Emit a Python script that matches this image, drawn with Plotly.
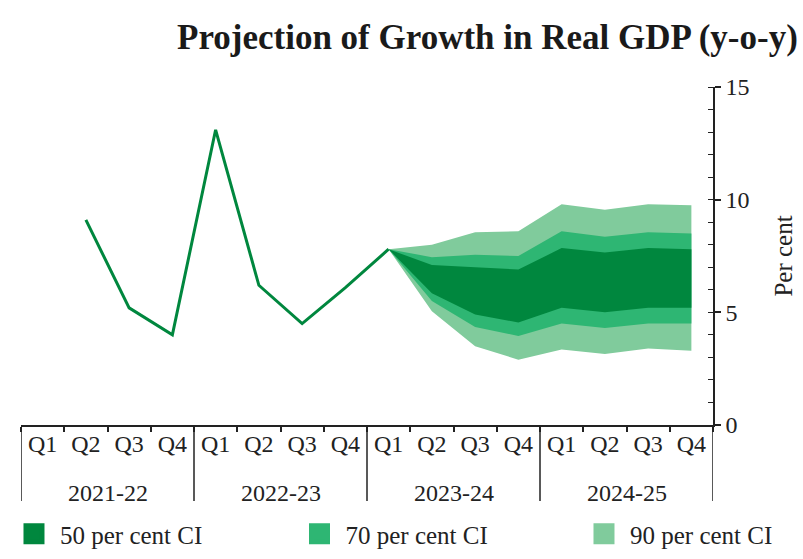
import plotly.graph_objects as go

years = ["2021-22", "2022-23", "2023-24", "2024-25"]
quarters = ["Q1", "Q2", "Q3", "Q4"]

# actual growth (None where no value)
actual = [None, 9.1, 5.2, 4.0, 13.1, 6.2, 4.5, 6.1, 7.8,
          None, None, None, None, None, None, None]

# fan chart bands, from 2023-24 Q1 to 2024-25 Q4
ci90_upper = [7.8, 8.0, 8.55, 8.6, 9.8, 9.55, 9.8, 9.75]
ci70_upper = [7.8, 7.45, 7.55, 7.5, 8.6, 8.35, 8.55, 8.5]
ci50_upper = [7.8, 7.1, 7.0, 6.9, 7.85, 7.65, 7.85, 7.8]
ci50_lower = [7.8, 5.85, 4.9, 4.55, 5.2, 5.0, 5.2, 5.2]
ci70_lower = [7.8, 5.5, 4.35, 3.95, 4.5, 4.3, 4.5, 4.5]
ci90_lower = [7.8, 5.05, 3.5, 2.9, 3.35, 3.15, 3.4, 3.3]

col50 = "#00873E"
col70 = "#2EB673"
col90 = "#80CB9C"
line_col = "#00873E"
ink = "#222222"
font_family = "Liberation Serif"

cats = [f"{y} {q}" for y in years for q in quarters]
qlabels = [q for _ in years for q in quarters]
fan_cats = cats[8:]

fig = go.Figure()

fig.add_trace(go.Scatter(x=cats, y=actual, mode="lines",
                         line=dict(color=line_col, width=3),
                         showlegend=False, hoverinfo="skip"))

def band(upper, lower, color):
    xs = fan_cats + fan_cats[::-1]
    ys = upper + lower[::-1]
    return go.Scatter(x=xs, y=ys, mode="lines", fill="toself",
                      fillcolor=color, line=dict(width=0, color=color),
                      showlegend=False, hoverinfo="skip")

fig.add_trace(band(ci90_upper, ci90_lower, col90))
fig.add_trace(band(ci70_upper, ci70_lower, col70))
fig.add_trace(band(ci50_upper, ci50_lower, col50))

legend_names = ["50 per cent CI", "70 per cent CI", "90 per cent CI"]
legend_cols = [col50, col70, col90]
legend_ids = ["legend", "legend2", "legend3"]
for name, c, lid in zip(legend_names, legend_cols, legend_ids):
    fig.add_trace(go.Scatter(x=[cats[8]], y=[None], mode="markers",
                             marker=dict(symbol="square", size=25, color=c,
                                         line=dict(color=c, width=5)),
                             name=name, legend=lid))

# year group labels below the quarter labels
for i, y in enumerate(years):
    fig.add_annotation(x=4 * i + 1.5, xref="x", y=-0.201, yref="paper",
                       text=y, showarrow=False, yanchor="middle",
                       font=dict(size=24, family=font_family, color=ink))
# year dividers
for b in [-0.5, 3.5, 7.5, 11.5, 15.5]:
    fig.add_shape(type="line", xref="x", yref="paper", x0=b, x1=b, y0=0, y1=-0.225,
                  line=dict(color=ink, width=1.5))

leg_common = dict(orientation="h", xanchor="left", yref="container", y=0.0447,
                  yanchor="middle", itemwidth=42,
                  font=dict(size=25, family=font_family, color=ink),
                  bgcolor="rgba(0,0,0,0)")

fig.update_layout(
    width=803, height=559,
    margin=dict(l=21, r=90, t=87, b=134),
    paper_bgcolor="white", plot_bgcolor="white",
    font=dict(family=font_family, size=24, color=ink),
    title=dict(text="<b>Projection of Growth in Real GDP (y-o-y)</b>",
               font=dict(family=font_family, size=35, color="#1a1a1a"),
               x=0.607, xref="container", xanchor="center",
               y=0.934, yref="container", yanchor="middle"),
    legend=dict(x=-0.0188, **leg_common),
    legend2=dict(x=0.3938, **leg_common),
    legend3=dict(x=0.8049, **leg_common),
)

fig.update_xaxes(
    type="category", categoryorder="array", categoryarray=cats,
    tickmode="array", tickvals=cats, ticktext=qlabels,
    range=[-0.5, 15.5],
    showline=True, linecolor=ink, linewidth=1.5,
    ticks="outside", tickson="boundaries", ticklen=5, tickcolor=ink, tickwidth=1.5,
    ticklabelstandoff=-4,
    showgrid=False, zeroline=False, automargin=False,
    tickfont=dict(size=24, family=font_family, color=ink),
)
fig.update_yaxes(
    side="right", range=[0, 15], dtick=5, tick0=0,
    showline=True, linecolor=ink, linewidth=1.5,
    ticks="outside", ticklen=6, tickcolor=ink, tickwidth=1.5,
    minor=dict(dtick=1, ticks="inside", ticklen=5, tickcolor=ink, tickwidth=1.2, showgrid=False),
    showgrid=False, zeroline=False, automargin=False,
    tickfont=dict(size=24, family=font_family, color=ink),
    title=dict(text="Per cent", font=dict(size=25, family=font_family, color=ink), standoff=26),
)

fig.write_html("out.html")
